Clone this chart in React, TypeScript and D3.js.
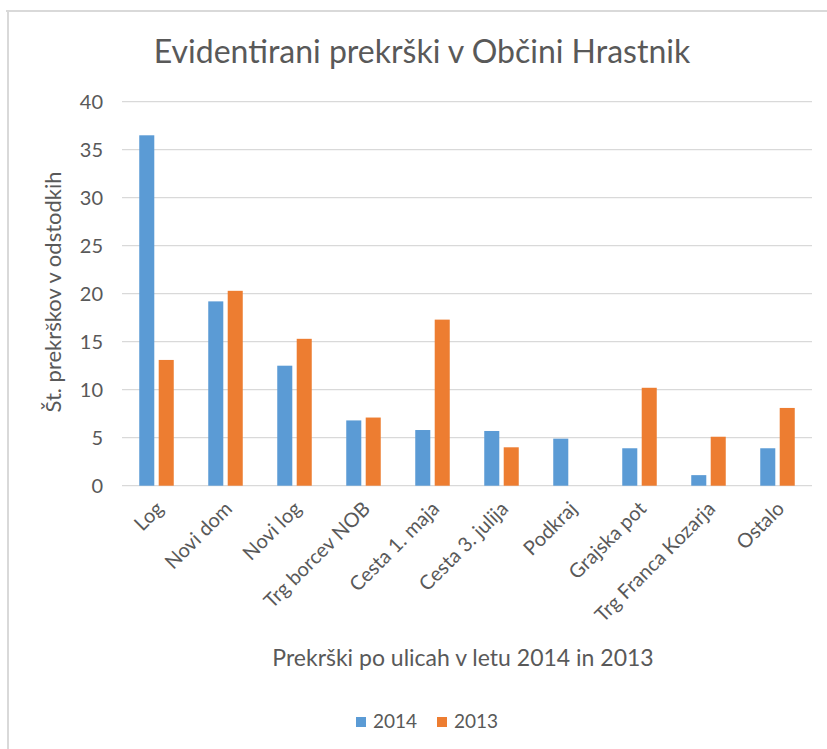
import React from "react";
import { scaleBand, scaleLinear } from "d3";

// chart data
const categories = [
  "Log",
  "Novi dom",
  "Novi log",
  "Trg borcev NOB",
  "Cesta 1. maja",
  "Cesta 3. julija",
  "Podkraj",
  "Grajska pot",
  "Trg Franca Kozarja",
  "Ostalo",
];
const values2014 = [36.5, 19.2, 12.5, 6.8, 5.8, 5.7, 4.9, 3.9, 1.1, 3.9];
const values2013 = [13.1, 20.3, 15.3, 7.1, 17.3, 4.0, 0, 10.2, 5.1, 8.1];
const seriesNames = ["2014", "2013"];
const seriesColors = ["#5B9BD5", "#ED7D31"];
const yTicks = [0, 5, 10, 15, 20, 25, 30, 35, 40];

const W = 827;
const H = 749;
const left = 122;
const right = 812;
const top = 101.7;
const bottom = 485.7;
const textColor = "#595959";
const font = "Lato, 'Open Sans', sans-serif";

const App = () => {
  const x0 = scaleBand<string>().domain(categories).range([left, right]);
  const bw = x0.bandwidth();
  const x1 = scaleBand<string>()
    .domain(seriesNames)
    .range([bw * 0.25, bw * 0.75])
    .paddingInner(0.227);
  const y = scaleLinear().domain([0, 40]).range([bottom, top]);
  const series = [values2014, values2013];

  return (
    <svg
      width={W}
      height={H}
      style={{ position: "absolute", left: 0, top: 0, background: "#fff" }}
      fontFamily={font}
    >
      {/* frame (only top and left edge show) */}
      <line x1={6} x2={W} y1={11} y2={11} stroke="#D9D9D9" strokeWidth={2} />
      <line x1={8} x2={8} y1={11} y2={H} stroke="#D9D9D9" strokeWidth={2} />

      <text x={422} y={63} textAnchor="middle" fontSize={32} fill={textColor}>
        Evidentirani prekrški v Občini Hrastnik
      </text>

      {/* grid + y ticks */}
      {yTicks.map((t) => (
        <g key={t}>
          <line x1={left} x2={right} y1={y(t)} y2={y(t)} stroke="#D9D9D9" strokeWidth={1.3} />
          <text x={103} y={y(t)} dy="0.36em" textAnchor="end" fontSize={20} fill={textColor}>
            {t}
          </text>
        </g>
      ))}

      <text
        transform={`translate(61,${292}) rotate(-90)`}
        textAnchor="middle"
        fontSize={22}
        fill={textColor}
      >
        Št. prekrškov v odstodkih
      </text>

      {/* bars */}
      {categories.map((c, i) => (
        <g key={c} transform={`translate(${x0(c)},0)`}>
          {series.map((vals, s) =>
            vals[i] > 0 ? (
              <rect
                key={s}
                x={x1(seriesNames[s])}
                y={y(vals[i])}
                width={x1.bandwidth()}
                height={y(0) - y(vals[i])}
                fill={seriesColors[s]}
              />
            ) : null
          )}
        </g>
      ))}

      {/* x labels */}
      {categories.map((c) => {
        const cx = (x0(c) as number) + bw / 2 + 8;
        return (
          <text
            key={c}
            transform={`translate(${cx},${510}) rotate(-45)`}
            textAnchor="end"
            fontSize={20}
            fill={textColor}
          >
            {c}
          </text>
        );
      })}

      <text x={463} y={666} textAnchor="middle" fontSize={23} fill={textColor}>
        Prekrški po ulicah v letu 2014 in 2013
      </text>

      {/* legend */}
      {seriesNames.map((n, i) => (
        <g key={n} transform={`translate(${356 + i * 81},0)`}>
          <rect x={0} y={717} width={10} height={10} fill={seriesColors[i]} />
          <text x={17} y={728} fontSize={19} fill={textColor}>
            {n}
          </text>
        </g>
      ))}
    </svg>
  );
};

export default App;
